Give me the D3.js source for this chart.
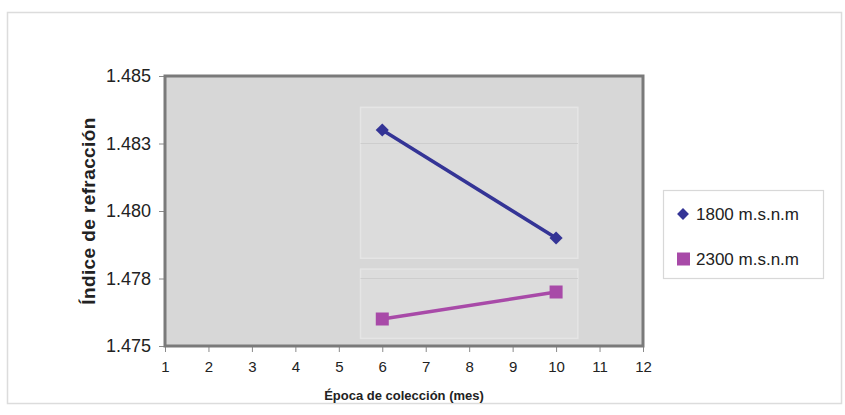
<!DOCTYPE html>
<html>
<head>
<meta charset="utf-8">
<script src="https://cdn.jsdelivr.net/npm/d3@7"></script>
<style>
  html, body { margin: 0; padding: 0; background: #fff; }
  svg { display: block; font-family: Arial, "Liberation Sans", sans-serif; }
</style>
</head>
<body>
<svg id="chart" width="845" height="415"></svg>
<script>
// Collection month (x) and refractive index per altitude series
const months = [6, 10];
const series1800 = [1.4830, 1.4790];
const series2300 = [1.4760, 1.4770];
const seriesNames = ["1800 m.s.n.m", "2300 m.s.n.m"];
const xTicks = [1, 2, 3, 4, 5, 6, 7, 8, 9, 10, 11, 12];
const yTicks = [1.475, 1.4775, 1.480, 1.4825, 1.485];
const yTickLabels = ["1.475", "1.478", "1.480", "1.483", "1.485"];

const svg = d3.select("#chart");
const plot = { left: 165, right: 643, top: 76, bottom: 346 };

const x = d3.scaleLinear().domain([1, 12]).range([plot.left, plot.right]);
const y = d3.scaleLinear().domain([1.475, 1.485]).range([plot.bottom, plot.top]);

// outer chart frame
svg.append("rect")
  .attr("x", 7.5).attr("y", 12.5).attr("width", 834).attr("height", 391)
  .attr("fill", "#fff").attr("stroke", "#dcdcdc").attr("stroke-width", 1.5);

// plot area
svg.append("rect")
  .attr("x", plot.left).attr("y", plot.top)
  .attr("width", plot.right - plot.left).attr("height", plot.bottom - plot.top)
  .attr("fill", "#d7d7d7");

// lighter inner panels with their gridlines
const panels = [
  { y0: 1.48384, y1: 1.47825, grid: 1.4825 },
  { y0: 1.47785, y1: 1.47528, grid: 1.4775 }
];
const pg = svg.append("g");
panels.forEach(p => {
  pg.append("rect")
    .attr("x", x(5.5)).attr("y", y(p.y0))
    .attr("width", x(10.5) - x(5.5)).attr("height", y(p.y1) - y(p.y0))
    .attr("fill", "#dcdcdc").attr("stroke", "#e5e5e5").attr("stroke-width", 1.5);
  pg.append("line")
    .attr("x1", x(5.5)).attr("x2", x(10.5))
    .attr("y1", y(p.grid)).attr("y2", y(p.grid))
    .attr("stroke", "#cdcdcd").attr("stroke-width", 1);
});

// axes
const yAxis = d3.axisLeft(y).tickValues(yTicks)
  .tickFormat((d, i) => yTickLabels[i]).tickSize(6).tickPadding(8);
const xAxis = d3.axisBottom(x).tickValues(xTicks)
  .tickFormat(d3.format("d")).tickSize(6).tickPadding(9);

const gy = svg.append("g").attr("transform", `translate(${plot.left},0)`).call(yAxis);
gy.select(".domain").remove();
gy.selectAll(".tick line").attr("stroke", "#8a8a8a");
gy.selectAll(".tick text").attr("font-size", 18).attr("fill", "#222")
  .attr("font-family", "Arial, 'Liberation Sans', sans-serif");

const gx = svg.append("g").attr("transform", `translate(0,${plot.bottom})`).call(xAxis);
gx.select(".domain").remove();
gx.selectAll(".tick line").attr("stroke", "#8a8a8a");
gx.selectAll(".tick text").attr("font-size", 15).attr("fill", "#222")
  .attr("font-family", "Arial, 'Liberation Sans', sans-serif");

// plot area border
svg.append("rect")
  .attr("x", plot.left).attr("y", plot.top)
  .attr("width", plot.right - plot.left).attr("height", plot.bottom - plot.top)
  .attr("fill", "none").attr("stroke", "#7a7a7a").attr("stroke-width", 3);

// series
const colors = ["#343496", "#a84aa8"];
const line = d3.line().x(d => x(d[0])).y(d => y(d[1]));
const data1 = months.map((m, i) => [m, series1800[i]]);
const data2 = months.map((m, i) => [m, series2300[i]]);

svg.append("path").datum(data1).attr("d", line)
  .attr("fill", "none").attr("stroke", colors[0]).attr("stroke-width", 3.5);
svg.append("path").datum(data2).attr("d", line)
  .attr("fill", "none").attr("stroke", colors[1]).attr("stroke-width", 3.5);

const diamond = d3.symbol().type(d3.symbolDiamond2).size(110);
svg.append("g").selectAll("path").data(data1).join("path")
  .attr("d", diamond)
  .attr("transform", d => `translate(${x(d[0])},${y(d[1])})`)
  .attr("fill", colors[0]);

svg.append("g").selectAll("rect").data(data2).join("rect")
  .attr("x", d => x(d[0]) - 6.5).attr("y", d => y(d[1]) - 6.5)
  .attr("width", 13).attr("height", 13)
  .attr("fill", colors[1]);

// axis titles
svg.append("text")
  .attr("transform", `translate(95,211) rotate(-90)`)
  .attr("text-anchor", "middle")
  .attr("font-size", 19).attr("font-weight", "bold").attr("fill", "#222")
  .attr("letter-spacing", 0.4)
  .text("Índice de refracción");

svg.append("text")
  .attr("x", 404).attr("y", 400)
  .attr("text-anchor", "middle")
  .attr("font-size", 13).attr("font-weight", "bold").attr("fill", "#222")
  .text("Época de colección (mes)");

// legend
const lg = svg.append("g");
lg.append("rect")
  .attr("x", 663.5).attr("y", 190.5).attr("width", 160).attr("height", 88)
  .attr("fill", "#fff").attr("stroke", "#d8d8d8").attr("stroke-width", 1.2);

const legendRows = [214, 259];
seriesNames.forEach((name, i) => {
  const cy = legendRows[i];
  if (i === 0) {
    lg.append("path").attr("d", d3.symbol().type(d3.symbolDiamond2).size(90))
      .attr("transform", `translate(683,${cy})`)
      .attr("fill", colors[0]);
  } else {
    lg.append("rect").attr("x", 677).attr("y", cy - 6.5)
      .attr("width", 13).attr("height", 13).attr("fill", colors[1]);
  }
  lg.append("text")
    .attr("x", 696).attr("y", cy).attr("dy", "0.36em")
    .attr("font-size", 17).attr("fill", "#222")
    .text(name);
});
</script>
</body>
</html>
